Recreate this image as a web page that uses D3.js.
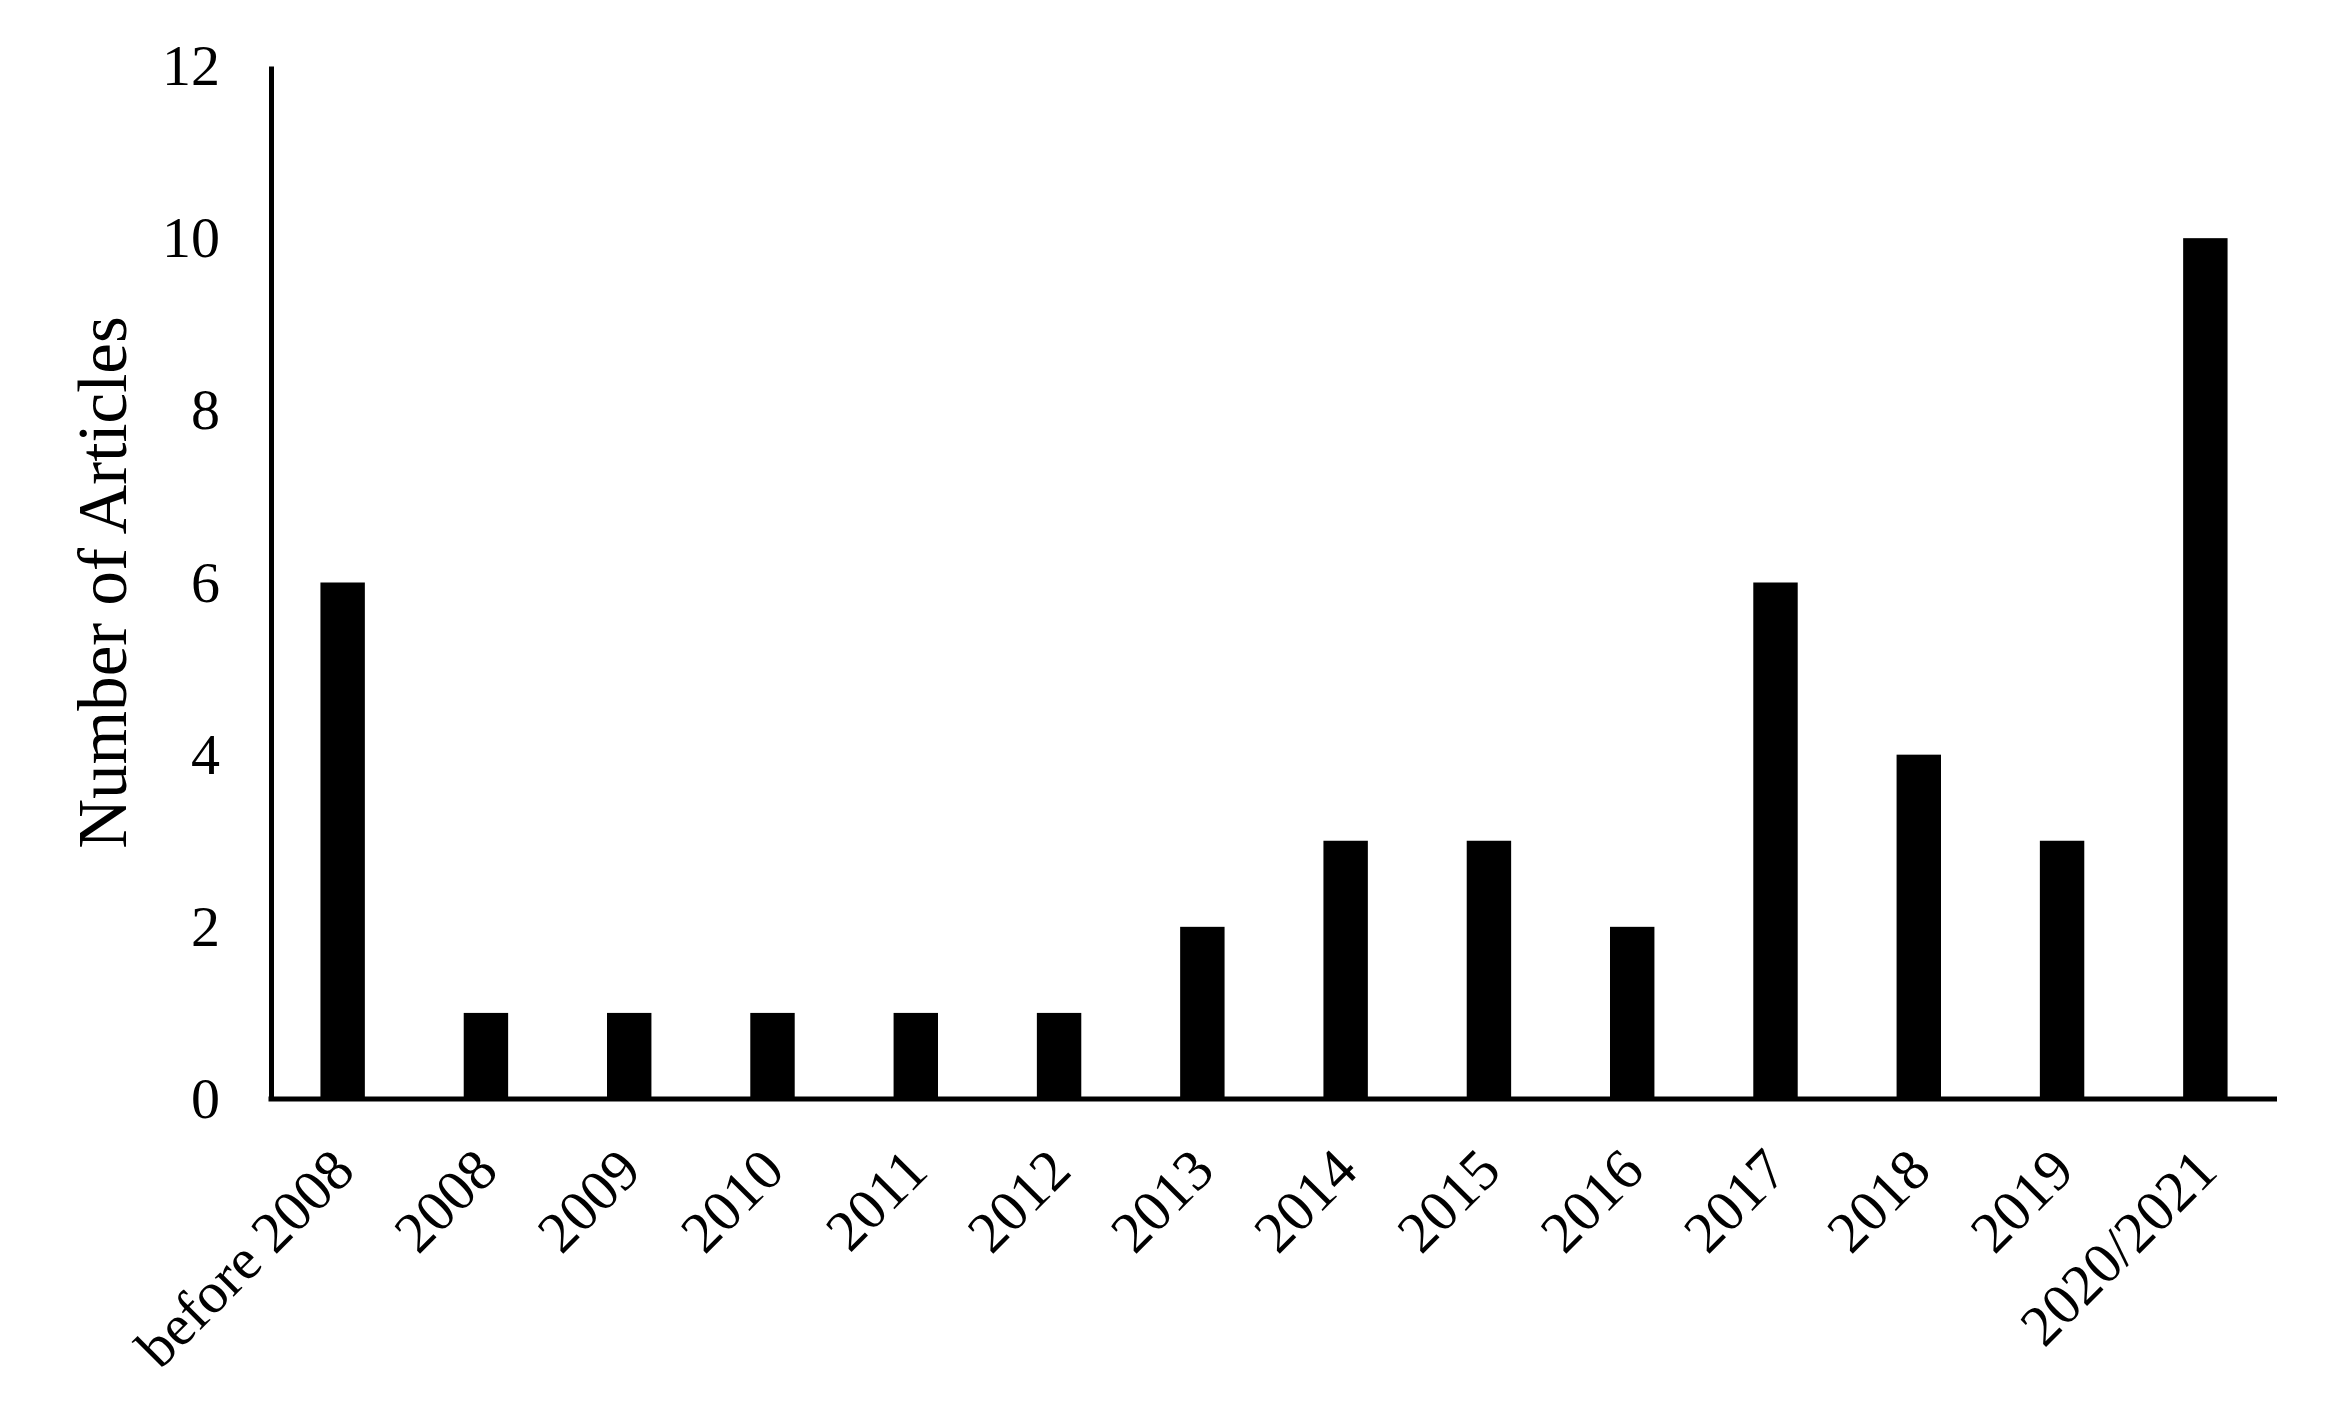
<html>
<script src='https://d3js.org/d3.v7.min.js'></script>
<style>
body {margin: 0; background: white;}
text {font-family: "Liberation Serif", "Times New Roman", serif; fill: black;}
</style>
<body>
<svg id="chart" width=2341 height=1423></svg>
<script>
// data
var categories = ["before 2008", "2008", "2009", "2010", "2011", "2012", "2013",
    "2014", "2015", "2016", "2017", "2018", "2019", "2020/2021"]
var articles = [6, 1, 1, 1, 1, 1, 2, 3, 3, 2, 6, 4, 3, 10]
var yTicks = [0, 2, 4, 6, 8, 10, 12]
var yLabel = "Number of Articles"

var plotLeft = 271, plotRight = 2277, plotTop = 66, plotBottom = 1099

var svg = d3.select("#chart")

var x = d3.scaleBand().domain(categories).range([plotLeft, plotRight])
    .paddingInner(0.69).paddingOuter(0.345)
var y = d3.scaleLinear().domain([0, 12]).range([plotBottom, plotTop])

svg.append("g")
    .selectAll("rect")
    .data(articles)
    .enter()
    .append("rect")
        .attr("x", function(d, i) {return x(categories[i]);})
        .attr("y", function(d) {return y(d);})
        .attr("width", x.bandwidth())
        .attr("height", function(d) {return y(0) - y(d);})
        .attr("fill", "black")

var yAxis = d3.axisLeft(y).tickValues(yTicks).tickSize(0).tickSizeOuter(0).tickPadding(51)
var gy = svg.append("g")
    .attr("transform", "translate(" + plotLeft + ",0)")
    .call(yAxis)
gy.select(".domain").attr("stroke", "black").attr("stroke-width", 5)
gy.selectAll("text")
    .style("font-size", "58px")
    .attr("font-family", null)

var xAxis = d3.axisBottom(x).tickSize(0).tickSizeOuter(0)
var gx = svg.append("g")
    .attr("transform", "translate(0," + plotBottom + ")")
    .call(xAxis)
gx.select(".domain").attr("stroke", "black").attr("stroke-width", 5)
    .attr("d", "M" + (plotLeft - 2.5) + ",0H" + plotRight)
gx.selectAll(".tick text")
    .attr("y", 0)
    .attr("dy", "0.35em")
    .attr("transform", "translate(0,60) rotate(-45)")
    .style("text-anchor", "end")
    .style("font-size", "58px")
    .attr("font-family", null)

svg.append("text")
    .attr("transform", "translate(126," + ((plotTop + plotBottom) / 2) + ") rotate(-90)")
    .attr("text-anchor", "middle")
    .style("font-size", "69px")
    .text(yLabel)
</script>
</body>
</html>
